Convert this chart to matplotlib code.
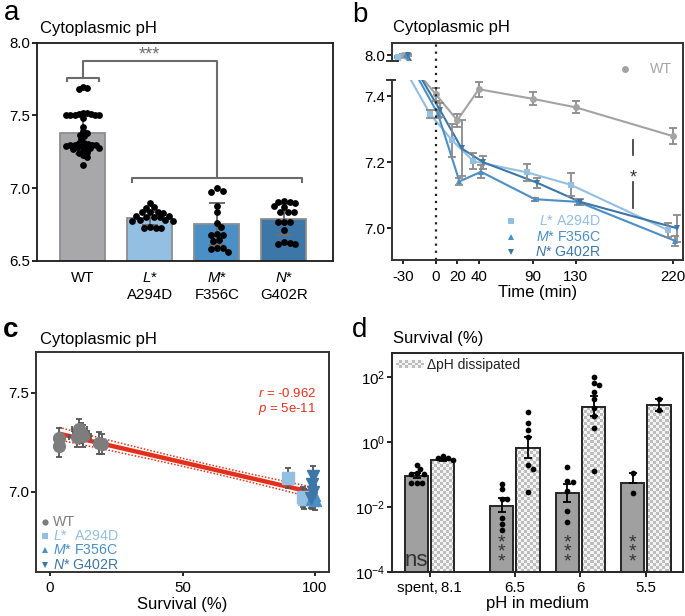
import numpy as np
import matplotlib
matplotlib.use("Agg")
import matplotlib.pyplot as plt
import matplotlib.transforms as mtransforms
from matplotlib.patches import Rectangle
from matplotlib.colors import ListedColormap
from matplotlib.image import AxesImage
from matplotlib.ticker import FixedLocator, LogFormatterSciNotation, NullLocator

plt.rcParams['font.family'] = ['Liberation Sans', 'DejaVu Sans']
plt.rcParams['mathtext.fontset'] = 'custom'
plt.rcParams['mathtext.rm'] = 'Liberation Sans'
plt.rcParams['mathtext.it'] = 'Liberation Sans:italic'
plt.rcParams['mathtext.bf'] = 'Liberation Sans:bold'
plt.rcParams['mathtext.sf'] = 'Liberation Sans'

# ================= DATA =================
# ---- panel a: cytoplasmic pH per strain
a_labels = ['WT', r'$\it{L}$*' + '\nA294D', r'$\it{M}$*' + '\nF356C', r'$\it{N}$*' + '\nG402R']
a_mean = [7.377, 6.793, 6.754, 6.788]
a_sd = [0.140, 0.045, 0.143, 0.107]
a_pts_wt = [7.698, 7.687, 7.682,
            7.52, 7.515, 7.51, 7.51, 7.505, 7.505, 7.50, 7.50, 7.50,
            7.48, 7.42, 7.39, 7.38, 7.365, 7.36, 7.335,
            7.31, 7.31, 7.305, 7.30, 7.30, 7.30, 7.295, 7.29, 7.29,
            7.28, 7.28, 7.275, 7.275, 7.27,
            7.255, 7.25, 7.245, 7.225, 7.215, 7.16]
a_pts_L = [6.90, 6.87, 6.865, 6.84, 6.835, 6.835, 6.83, 6.81, 6.81, 6.805,
           6.80, 6.80, 6.78, 6.78, 6.775, 6.775, 6.735, 6.73, 6.73, 6.725]
a_pts_M = [7.00, 6.983, 6.976, 6.878, 6.838, 6.763, 6.735, 6.683, 6.68, 6.677,
           6.645, 6.64, 6.59, 6.588, 6.585, 6.563]
a_pts_N = [6.91, 6.905, 6.905, 6.90, 6.875, 6.87, 6.84, 6.838, 6.835, 6.77,
           6.77, 6.765, 6.713, 6.63, 6.625, 6.62, 6.62]

# ---- panel b: time course of cytoplasmic pH
b_times = [-30, 0, 20, 40, 90, 130, 220]
b_wt = [8.0, 7.406, 7.327, 7.421, 7.392, 7.366, 7.279]
b_wt_err = [0.004, 0.02, 0.02, 0.022, 0.02, 0.018, 0.025]
b_L = [7.995, 7.345, 7.267, 7.203, 7.169, 7.132, 6.995]
b_L_err = [0.004, 0.012, 0.05, 0.025, 0.025, 0.035, 0.02]
b_M = [8.0, 7.347, 7.142, 7.171, 7.088, 7.080, 6.962]
b_M_err = [0.003, 0.012, 0.01, 0.02, 0.004, 0.008, 0.015]
b_N = [8.0, 7.358, 7.242, 7.200, 7.138, 7.080, 7.000]
b_N_err = [0.003, 0.02, 0.085, 0.02, 0.015, 0.01, 0.04]
b_series_names = ['WT', r'$\it{L}$* A294D', r'$\it{M}$* F356C', r'$\it{N}$* G402R']

# ---- panel c: pH vs survival
c_wt_x = [3.4, 3.4, 10.3, 11.1, 11.6, 12.3, 18.6, 19.5]
c_wt_y = [7.270, 7.231, 7.278, 7.315, 7.295, 7.281, 7.244, 7.240]
c_wt_xerr = [1.5, 1.5, 3.0, 3.0, 3.0, 3.0, 2.0, 2.0]
c_wt_yerr = [0.05, 0.055, 0.05, 0.05, 0.05, 0.055, 0.055, 0.05]
c_L_x = [89.9, 95.3, 96.0]
c_L_y = [7.068, 6.975, 6.962]
c_M_x = [99.0, 99.6, 100.0]
c_M_y = [6.965, 6.985, 6.960]
c_N_x = [99.1, 98.8, 99.3, 98.6]
c_N_y = [7.080, 7.040, 7.000, 6.970]
c_mut_yerr = 0.05
c_mut_xerr = 0.6
c_names = ['WT', r'$\it{L}$*  A294D', r'$\it{M}$* F356C', r'$\it{N}$* G402R']
c_r_text = r'$\it{r}$ = -0.962'
c_p_text = r'$\it{p}$ = 5e-11'

# ---- panel d: survival (%) at medium pH
d_groups = ['spent,\u20098.1', '6.5', '6', '5.5']
d_ctrl_mean = [0.088, 0.0107, 0.027, 0.052]
d_ctrl_lo = [0.074, 0.0067, 0.014, 0.052]
d_ctrl_hi = [0.107, 0.019, 0.050, 0.106]
d_diss_mean = [0.27, 0.63, 11.9, 13.5]
d_diss_lo = [0.25, 0.31, 6.0, 9.0]
d_diss_hi = [0.29, 1.42, 25.0, 20.0]
d_ctrl_pts = [[0.19, 0.14, 0.107, 0.105, 0.105, 0.053, 0.053, 0.052],
              [0.05, 0.034, 0.017, 0.017, 0.0045, 0.003, 0.0019],
              [0.17, 0.062, 0.058, 0.030, 0.0072, 0.0035],
              [0.106, 0.026]]
d_diss_pts = [[0.36, 0.32, 0.31, 0.28],
              [8.4, 3.7, 2.3, 1.4, 0.19, 0.15, 0.029],
              [95, 65, 55, 35, 20, 11, 6, 2.6, 0.13],
              [20, 9.4]]
d_sig = ['ns', '***', '***', '***']

# ================= STYLE =================
C_WT_BAR = '#a8a7aa'
C_L = '#93bfe2'
C_M = '#4b8fc7'
C_N = '#3c77a8'
C_WT_LINE = '#a3a3a3'
C_WT_C = '#7d7d7d'
C_RED = '#e3301c'
TICK_FS = 10.8


def swarm_offsets(values, px_per_y, px_per_x, d, tf=lambda v: v):
    ys = np.array([tf(v) for v in values]) * px_per_y
    order = np.argsort(-ys, kind='stable')
    cands = [0.0]
    for k in range(1, 80):
        cands += [k * d * 0.35, -k * d * 0.35]
    placed = []
    offs = np.zeros(len(ys))
    for i in order:
        for c in cands:
            if all((c - px) ** 2 + (ys[i] - py) ** 2 >= d * d for px, py in placed):
                offs[i] = c
                placed.append((c, ys[i]))
                break
    return offs / px_per_x


fig = plt.figure(figsize=(6.85, 6.16), dpi=100)

# ================= PANEL a =================
axa = fig.add_axes([36.7 / 685, 1 - 261 / 616, 296.6 / 685, 218.3 / 616])
xa = np.arange(len(a_mean))
axa.bar(xa, a_mean, width=0.67, bottom=0, color=[C_WT_BAR, C_L, C_M, C_N],
        edgecolor='#8e8e8e', linewidth=1.3, zorder=1)
axa.errorbar(xa, a_mean, yerr=a_sd, fmt='none', ecolor='#6e6e6e', elinewidth=1.4,
             capsize=5.5, capthick=1.4, zorder=3)
for i, pts in enumerate([a_pts_wt, a_pts_L, a_pts_M, a_pts_N]):
    offs = swarm_offsets(pts, 145.5, 67.0, 3.9 if i == 0 else 5.6)
    axa.scatter(xa[i] + offs, pts, s=24, color='black', linewidths=0, zorder=4)
axa.set_xlim(-0.687, 3.74)
axa.set_ylim(6.5, 8.0)
axa.set_yticks([6.5, 7.0, 7.5, 8.0])
axa.set_yticklabels(['6.5', '7.0', '7.5', '8.0'])
axa.set_xticks(xa)
axa.set_xticklabels(a_labels)
axa.tick_params(axis='x', length=0, pad=7.5, labelsize=TICK_FS)
axa.tick_params(axis='y', length=3.6, width=1.2, pad=1.2, labelsize=TICK_FS)
for sp in axa.spines.values():
    sp.set_color('#1a1a1a')
    sp.set_linewidth(1.3)
# significance brackets
bc = '#6b6b6b'
axa.plot([-0.24, -0.24, 0.24, 0.24], [7.74, 7.76, 7.76, 7.74], color=bc, lw=1.5, zorder=5)
axa.plot([0, 0, 2.01, 2.01], [7.76, 7.874, 7.874, 7.068], color=bc, lw=1.5, zorder=5)
axa.plot([0.73, 0.73, 3.27, 3.27], [7.045, 7.068, 7.068, 7.045], color=bc, lw=1.5, zorder=5)
axa.text(1.0, 7.86, '***', ha='center', va='bottom', color='#6e6e6e', fontsize=13)

# ================= PANEL b =================
axb = fig.add_axes([391.7 / 685, 1 - 260 / 616, 291.3 / 685, 217.3 / 616])
LO_B, HI_B, GAP = 7.45, 7.983, 0.0564
fp = [5.0, LO_B, LO_B + GAP, LO_B + GAP + (9.0 - HI_B)]
xp = [5.0, LO_B, HI_B, 9.0]


def fwd(y):
    return np.interp(np.asarray(y, dtype=float), xp, fp)


def inv(y):
    return np.interp(np.asarray(y, dtype=float), fp, xp)


axb.set_yscale('function', functions=(fwd, inv))
b_styles = [(b_wt, b_wt_err, C_WT_LINE, 'o', 0.0),
            (b_L, b_L_err, C_L, 's', -5.0),
            (b_M, b_M_err, C_M, '^', 2.0),
            (b_N, b_N_err, C_N, 'v', 4.0)]
for vals, err, col, mk, dx in b_styles:
    xs = np.array(b_times, dtype=float) + dx
    axb.plot(xs, vals, color=col, lw=1.5, zorder=2)
for vals, err, col, mk, dx in b_styles:
    xs = np.array(b_times, dtype=float) + dx
    axb.errorbar(xs, vals, yerr=err, fmt='none', ecolor='#8a8a8a', elinewidth=1.3,
                 capsize=3, capthick=1.3, zorder=2.05)
    axb.plot(xs, vals, ls='none', marker=mk, color=col, ms=5, mew=0, zorder=2.1)
blend_b = mtransforms.blended_transform_factory(axb.transAxes, axb.transData)
axb.add_patch(Rectangle((0, LO_B), 1, HI_B - LO_B, transform=blend_b,
                        facecolor='white', edgecolor='none', zorder=2.2))
axb.axvline(0, color='#222222', ls=(0, (1, 2.2)), lw=1.6, zorder=2.3)
axb.set_xlim(-40.8, 229.3)
axb.set_ylim(6.904, 8.0385)
axb.set_yticks([7.0, 7.2, 7.4, 8.0])
axb.set_yticklabels(['7.0', '7.2', '7.4', '8.0'])
axb.yaxis.set_minor_locator(NullLocator())
axb.set_xticks(b_times)
axb.set_xticklabels([str(t) for t in b_times])
axb.tick_params(axis='x', length=3, width=1.2, pad=4, labelsize=TICK_FS)
axb.tick_params(axis='y', length=3.6, width=1.2, pad=1.2, labelsize=TICK_FS)
axb.set_xlabel('Time (min)', fontsize=12, labelpad=1)
for sp in axb.spines.values():
    sp.set_color('#333333')
    sp.set_linewidth(1.4)
axb.spines['left'].set_visible(False)
ymin_b, ymax_b = axb.get_ylim()
axb.plot([0, 0], [ymin_b, LO_B], transform=blend_b, color='#333333', lw=1.4, clip_on=False, zorder=3)
axb.plot([0, 0], [HI_B, ymax_b], transform=blend_b, color='#333333', lw=1.4, clip_on=False, zorder=3)
axb.plot([-0.017, 0.011], [LO_B, LO_B], transform=blend_b, color='#333333', lw=1.4, clip_on=False, zorder=3)
axb.plot([-0.017, 0.02], [HI_B, HI_B], transform=blend_b, color='#333333', lw=1.4, clip_on=False, zorder=3)
# significance
axb.plot([183, 183], [7.221, 7.267], color='#333333', lw=1.2)
axb.plot([183, 183], [7.06, 7.14], color='#333333', lw=1.2)
axb.text(183, 7.152, '*', ha='center', va='center', fontsize=13, color='#333333')
# legends (manual)
axb.plot([0.80], [0.878], transform=axb.transAxes, marker='o', color=C_WT_LINE, ms=5, mew=0, ls='none', zorder=6)
axb.text(0.962, 0.878, 'WT', transform=axb.transAxes, ha='right', va='center', color=C_WT_LINE, fontsize=10.2, zorder=6)
for (nm, col, mk), yy in zip([(b_series_names[1], C_L, 's'), (b_series_names[2], C_M, '^'),
                              (b_series_names[3], C_N, 'v')], [0.18, 0.108, 0.036]):
    axb.plot([0.41], [yy], transform=axb.transAxes, marker=mk, color=col, ms=5, mew=0, ls='none', zorder=6)
    axb.text(0.717, yy, nm, transform=axb.transAxes, ha='right', va='center', color=col, fontsize=10.2, zorder=6)

# ================= PANEL c =================
axc = fig.add_axes([36 / 685, 1 - 571.7 / 616, 293.3 / 685, 220 / 616])
cx = np.array(c_wt_x + c_L_x + c_M_x + c_N_x, dtype=float)
cy = np.array(c_wt_y + c_L_y + c_M_y + c_N_y, dtype=float)
slope, intercept = np.polyfit(cx, cy, 1)
xx = np.linspace(cx.min(), cx.max(), 200)
yy_fit = intercept + slope * xx
n = len(cx)
resid = cy - (intercept + slope * cx)
s_res = np.sqrt(np.sum(resid ** 2) / (n - 2))
sxx = np.sum((cx - cx.mean()) ** 2)
t95 = 2.12
ci = t95 * s_res * np.sqrt(1.0 / n + (xx - cx.mean()) ** 2 / sxx)
axc.plot(xx, yy_fit, color=C_RED, lw=3.2, zorder=2, solid_capstyle='butt')
axc.plot(xx, yy_fit + ci, color=C_RED, lw=1.1, ls=(0, (1, 1.2)), zorder=2)
axc.plot(xx, yy_fit - ci, color=C_RED, lw=1.1, ls=(0, (1, 1.2)), zorder=2)
axc.errorbar(c_wt_x, c_wt_y, xerr=c_wt_xerr, yerr=c_wt_yerr, fmt='o', color=C_WT_C, ms=8.5,
             ecolor='#555555', elinewidth=1.3, capsize=2.5, capthick=1.3, zorder=3)
for xs_, ys_, col, mk in [(c_L_x, c_L_y, C_L, 's'), (c_M_x, c_M_y, C_M, '^'), (c_N_x, c_N_y, C_N, 'v')]:
    axc.errorbar(xs_, ys_, xerr=c_mut_xerr, yerr=c_mut_yerr, fmt=mk, color=col, ms=8,
                 ecolor='#555555', elinewidth=1.3, capsize=2.5, capthick=1.3, zorder=3)
axc.set_xlim(-5.3, 105.4)
axc.set_ylim(6.596, 7.707)
axc.set_xticks([0, 50, 100])
axc.set_yticks([7.0, 7.5])
axc.set_yticklabels(['7.0', '7.5'])
axc.tick_params(axis='x', length=3, width=1.2, pad=4, labelsize=TICK_FS)
axc.tick_params(axis='y', length=3.6, width=1.2, pad=1.2, labelsize=TICK_FS)
axc.set_xlabel('Survival (%)', fontsize=12, labelpad=1)
for sp in axc.spines.values():
    sp.set_color('#333333')
    sp.set_linewidth(1.4)
axc.text(0.757, 0.792, c_r_text, transform=axc.transAxes, color=C_RED, fontsize=9.5, va='baseline')
axc.text(0.757, 0.724, c_p_text, transform=axc.transAxes, color=C_RED, fontsize=9.5, va='baseline')
for (nm, col, mk), yy in zip([(c_names[0], C_WT_C, 'o'), (c_names[1], C_L, 's'),
                              (c_names[2], C_M, '^'), (c_names[3], C_N, 'v')],
                             [0.227, 0.162, 0.097, 0.032]):
    axc.plot([0.031], [yy], transform=axc.transAxes, marker=mk, color=col, ms=4.5, mew=0, ls='none')
    axc.text(0.058, yy, nm, transform=axc.transAxes, ha='left', va='center', color=col, fontsize=10.2)

# ================= PANEL d =================
axd = fig.add_axes([391.7 / 685, 1 - 571.7 / 616, 291.6 / 685, 219 / 616])
axd.set_yscale('log')
d_pos = np.array([0.0, 1.3, 2.3, 3.3])
bw = 0.355
dx_off = 0.2
ctrl_bars = axd.bar(d_pos - dx_off, d_ctrl_mean, width=bw, bottom=1e-6, color='#a0a0a0',
                    edgecolor='#262626', linewidth=1.4, zorder=1)
diss_bars = axd.bar(d_pos + dx_off, d_diss_mean, width=bw, bottom=1e-6, color='white',
                    edgecolor='#262626', linewidth=1.4, zorder=1)
checker_cmap = ListedColormap(['#f4f4f4', '#bdbdbd'])
rows, cols = 73, 97
checker = (np.add.outer(np.arange(rows), np.arange(cols)) % 2).astype(float)
for b in diss_bars:
    im = AxesImage(axd, cmap=checker_cmap, interpolation='nearest', origin='lower',
                   extent=(0, 1, 0, 1), transform=axd.transAxes)
    im.set_data(checker)
    im.set_clim(0, 1)
    im.set_clip_path(b)
    im.set_zorder(1.05)
    axd.add_image(im)
axd.bar(d_pos + dx_off, d_diss_mean, width=bw, bottom=1e-6, facecolor='none',
        edgecolor='#262626', linewidth=1.4, zorder=1.1)
cm = np.array(d_ctrl_mean)
dm = np.array(d_diss_mean)
axd.errorbar(d_pos - dx_off, cm, yerr=[cm - np.array(d_ctrl_lo), np.array(d_ctrl_hi) - cm], fmt='none',
             ecolor='black', elinewidth=1.3, capsize=3, capthick=1.3, zorder=2)
axd.errorbar(d_pos + dx_off, dm, yerr=[dm - np.array(d_diss_lo), np.array(d_diss_hi) - dm], fmt='none',
             ecolor='black', elinewidth=1.3, capsize=3, capthick=1.3, zorder=2)
for i in range(len(d_pos)):
    for pts, sgn in [(d_ctrl_pts[i], -1), (d_diss_pts[i], 1)]:
        offs = swarm_offsets(pts, 32.5, 65.5, 5.0, tf=np.log10)
        axd.scatter(d_pos[i] + sgn * dx_off + offs, pts, s=17, color='black', linewidths=0, zorder=3)
for i, sg in enumerate(d_sig):
    if sg == 'ns':
        axd.text(d_pos[i] - dx_off, 1.05e-4, sg, ha='center', va='bottom', fontsize=16, color='#333333', zorder=4)
    else:
        axd.text(d_pos[i] - dx_off, 1.1e-4, '*\n*\n*', ha='center', va='bottom', fontsize=14,
                 linespacing=0.42, color='#333333', zorder=4)
axd.set_xlim(-0.58, 3.87)
axd.set_ylim(1e-4, 10 ** 2.74)
axd.yaxis.set_major_locator(FixedLocator([1e-4, 1e-2, 1e0, 1e2]))
axd.yaxis.set_major_formatter(LogFormatterSciNotation())
axd.yaxis.set_minor_locator(NullLocator())
axd.set_xticks(d_pos)
axd.set_xticklabels(d_groups)
axd.tick_params(axis='x', length=3.5, width=1.2, pad=3, labelsize=TICK_FS)
axd.tick_params(axis='y', length=3.6, width=1.2, pad=1.2, labelsize=TICK_FS)
axd.set_xlabel('pH in medium', fontsize=12, labelpad=1)
for sp in axd.spines.values():
    sp.set_color('#262626')
    sp.set_linewidth(1.4)
# legend (checkered patch)
leg_chk = (np.add.outer(np.arange(3), np.arange(9)) % 2).astype(float)
leg_im = AxesImage(axd, cmap=checker_cmap, interpolation='nearest', origin='lower',
                   extent=(0.015, 0.108, 0.929, 0.963), transform=axd.transAxes)
leg_im.set_data(leg_chk)
leg_im.set_clim(0, 1)
leg_im.set_zorder(5)
axd.add_image(leg_im)
axd.text(0.121, 0.946, '\u0394pH dissipated', transform=axd.transAxes, ha='left', va='center',
         fontsize=10, color='#222222', zorder=5)

# ================= titles / panel letters =================
fig.text(40 / 685, 1 - 33 / 616, 'Cytoplasmic pH', fontsize=12, va='baseline', ha='left')
fig.text(393.3 / 685, 1 - 31.7 / 616, 'Cytoplasmic pH', fontsize=12, va='baseline', ha='left')
fig.text(40 / 685, 1 - 344 / 616, 'Cytoplasmic pH', fontsize=12, va='baseline', ha='left')
fig.text(393 / 685, 1 - 343 / 616, 'Survival (%)', fontsize=12, va='baseline', ha='left')
fig.text(4 / 685, 1 - 20 / 616, 'a', fontsize=20, va='baseline', ha='left')
fig.text(352 / 685, 1 - 21.5 / 616, 'b', fontsize=20, va='baseline', ha='left')
fig.text(3 / 685, 1 - 337 / 616, 'c', fontsize=20, va='baseline', ha='left', fontweight='bold')
fig.text(352 / 685, 1 - 336.7 / 616, 'd', fontsize=20, va='baseline', ha='left')

fig.savefig('out.png', dpi=100)
